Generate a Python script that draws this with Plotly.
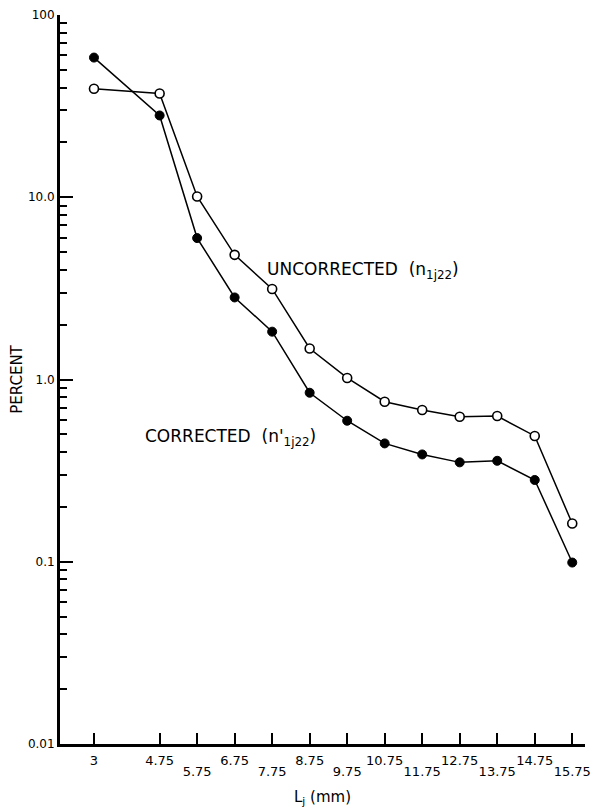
import plotly.graph_objects as go

# Data
L_j = [3, 4.75, 5.75, 6.75, 7.75, 8.75, 9.75, 10.75, 11.75, 12.75, 13.75, 14.75, 15.75]
uncorrected = [39.4, 37.1, 10.1, 4.83, 3.14, 1.48, 1.02, 0.755, 0.68, 0.625, 0.63, 0.49, 0.162]
corrected = [58.4, 28.1, 5.97, 2.82, 1.83, 0.846, 0.594, 0.446, 0.388, 0.351, 0.358, 0.281, 0.099]

# tick labels are staggered on two rows
row1_ticks = [3, 4.75, 6.75, 8.75, 10.75, 12.75, 14.75]
row1_text = ["3", "4.75", "6.75", "8.75", "10.75", "12.75", "14.75"]
row2_ticks = [5.75, 7.75, 9.75, 11.75, 13.75, 15.75]
row2_text = ["5.75", "7.75", "9.75", "11.75", "13.75", "15.75"]
y_tick_vals = [0.01, 0.1, 1, 10, 100]
y_tick_text = ["0.01", "0.1", "1.0", "10.0", "100"]

FONT = "DejaVu Sans"
XRANGE = [2.094, 16.09]

fig = go.Figure()
fig.add_trace(go.Scatter(
    x=L_j, y=corrected, mode="lines+markers",
    line=dict(color="black", width=1.5),
    marker=dict(symbol="circle", size=9, color="black", line=dict(color="black", width=1)),
    showlegend=False, name="corrected"))
fig.add_trace(go.Scatter(
    x=L_j, y=uncorrected, mode="lines+markers",
    line=dict(color="black", width=1.5),
    marker=dict(symbol="circle", size=9, color="white", line=dict(color="black", width=1.6)),
    showlegend=False, name="uncorrected"))
# invisible helper trace so the second (staggered-label) x axis is drawn
fig.add_trace(go.Scatter(
    x=L_j, y=corrected, xaxis="x2", mode="lines", opacity=0,
    line=dict(color="rgba(0,0,0,0)"), hoverinfo="skip", showlegend=False))

tick_common = dict(ticks="inside", ticklen=11, tickwidth=1.5, tickcolor="black",
                   tickangle=0, tickfont=dict(size=13, family=FONT), automargin=False)

fig.update_layout(
    width=593, height=812,
    margin=dict(l=60, r=8, t=15, b=68),
    paper_bgcolor="white", plot_bgcolor="white",
    font=dict(family=FONT, color="black", size=13),
    xaxis=dict(
        range=XRANGE, showgrid=False, zeroline=False,
        showline=True, linecolor="black", linewidth=3,
        tickmode="array", tickvals=row1_ticks, ticktext=row1_text,
        ticklabelstandoff=2,
        title=dict(text="L<sub>j</sub> (mm)", font=dict(size=15, family=FONT), standoff=25),
        **tick_common,
    ),
    xaxis2=dict(
        overlaying="x", anchor="y", side="bottom", matches="x",
        range=XRANGE, showgrid=False, zeroline=False, showline=False,
        tickmode="array", tickvals=row2_ticks, ticktext=row2_text,
        ticklabelstandoff=18,
        **tick_common,
    ),
    yaxis=dict(
        type="log", range=[-2, 2], showgrid=False, zeroline=False,
        showline=True, linecolor="black", linewidth=3, automargin=False,
        tickmode="array", tickvals=y_tick_vals, ticktext=y_tick_text,
        ticks="inside", ticklen=13, tickwidth=1.5, tickcolor="black",
        tickfont=dict(size=12, family=FONT),
        minor=dict(ticks="inside", ticklen=7, tickwidth=1.5, tickcolor="black", dtick="D1"),
        title=dict(text="PERCENT", font=dict(size=15, family=FONT), standoff=2),
    ),
    annotations=[
        dict(text="UNCORRECTED  (n<sub>1j22</sub>)", xref="paper", yref="paper",
             x=0.390, y=0.650, xanchor="left", yanchor="middle", showarrow=False,
             font=dict(size=17, family=FONT)),
        dict(text="CORRECTED  (n'<sub>1j22</sub>)", xref="paper", yref="paper",
             x=0.158, y=0.421, xanchor="left", yanchor="middle", showarrow=False,
             font=dict(size=17, family=FONT)),
    ],
)

fig.write_html("out.html")
